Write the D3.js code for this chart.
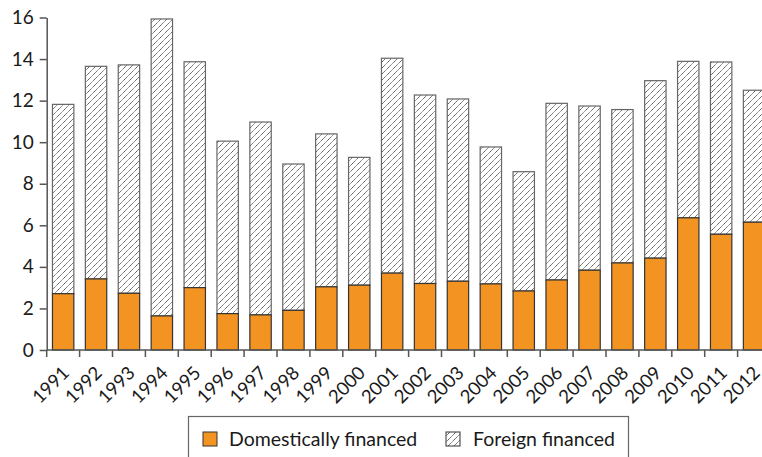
<!DOCTYPE html>
<html><head><meta charset="utf-8">
<script src="https://cdn.jsdelivr.net/npm/d3@7"></script>
<style>body{margin:0;background:#fff}svg{display:block}text{font-family:Lato,"Open Sans",sans-serif;fill:#1a1a1a}</style>
</head><body><svg id="c" width="762" height="457"></svg>
<script>
const years = ["1991","1992","1993","1994","1995","1996","1997","1998","1999","2000","2001","2002","2003","2004","2005","2006","2007","2008","2009","2010","2011","2012"];
const domestic = [2.71,3.42,2.73,1.64,3.0,1.75,1.69,1.91,3.04,3.12,3.7,3.2,3.31,3.18,2.84,3.37,3.84,4.19,4.42,6.36,5.57,6.15];
const foreign = [9.11,10.23,10.99,14.29,10.87,8.30,9.28,7.04,7.36,6.15,10.34,9.07,8.77,6.59,5.74,8.50,7.90,7.38,8.54,7.53,8.29,6.35];
const yTicks = [0,2,4,6,8,10,12,14,16];
const seriesNames = ["Domestically financed","Foreign financed"];

const svg = d3.select("#c");
const x0 = 46.7, step = 32.9;
const x = d3.scaleBand().domain(years).range([x0, x0 + step*years.length]).paddingInner(0.35).paddingOuter(0.175);
const y = d3.scaleLinear().domain([0,16]).range([350,17.5]);

const defs = svg.append("defs");
const pat = defs.append("pattern").attr("id","hatch").attr("patternUnits","userSpaceOnUse").attr("width",6).attr("height",6);
pat.append("rect").attr("width",6).attr("height",6).attr("fill","#fff");
pat.append("path").attr("d","M-1,7 L7,-1 M-4,4 L4,-4 M2,10 L10,2").attr("stroke","#2a2a2a").attr("stroke-width",0.9).attr("stroke-dasharray","1.2,0.6");

const data = years.map((yr,i)=>({year:yr, d:domestic[i], f:foreign[i]}));

svg.append("g").selectAll("rect").data(data).join("rect")
  .attr("x", d=>x(d.year)).attr("width", x.bandwidth())
  .attr("y", d=>y(d.d+d.f)).attr("height", d=>y(d.d)-y(d.d+d.f))
  .attr("fill","url(#hatch)").attr("stroke","#666").attr("stroke-width",1.2);
svg.append("g").selectAll("rect").data(data).join("rect")
  .attr("x", d=>x(d.year)).attr("width", x.bandwidth())
  .attr("y", d=>y(d.d)).attr("height", d=>y(0)-y(d.d))
  .attr("fill","#F39422").attr("stroke","#333").attr("stroke-width",1.2);

const ya = svg.append("g").attr("transform",`translate(${x0},0)`)
  .call(d3.axisLeft(y).tickValues(yTicks).tickSize(7).tickPadding(6).tickSizeOuter(0));
ya.select(".domain").attr("stroke","#555").attr("stroke-width",1.5);
ya.selectAll(".tick line").attr("stroke","#555").attr("stroke-width",1.5);
ya.selectAll("text").attr("font-size",19).attr("font-family","Lato,sans-serif").attr("fill","#1a1a1a");

svg.append("line").attr("x1",x0).attr("x2",770).attr("y1",y(0)).attr("y2",y(0)).attr("stroke","#555").attr("stroke-width",1.5);
const bounds = years.map(yr=>x(yr) - (x.step()-x.bandwidth())/2);
svg.append("g").selectAll("line").data(bounds).join("line")
  .attr("x1",d=>d).attr("x2",d=>d).attr("y1",y(0)).attr("y2",y(0)+7).attr("stroke","#555").attr("stroke-width",1.5);
svg.append("g").selectAll("text").data(years).join("text")
  .attr("transform", d=>`translate(${x(d)+x.bandwidth()/2-2},${y(0)+15}) rotate(-45)`)
  .attr("text-anchor","end").attr("dy","0.7em").attr("font-size",18.5).text(d=>d);

const lg = svg.append("g");
lg.append("rect").attr("x",188.5).attr("y",416.5).attr("width",440).attr("height",60).attr("fill","none").attr("stroke","#666").attr("stroke-width",1.2);
lg.append("rect").attr("x",203).attr("y",432).attr("width",14).attr("height",14).attr("fill","#F39422").attr("stroke","#333").attr("stroke-width",1);
lg.append("text").attr("x",229).attr("y",445.5).attr("font-size",19.5).text(seriesNames[0]);
lg.append("rect").attr("x",446).attr("y",432).attr("width",14).attr("height",14).attr("fill","url(#hatch)").attr("stroke","#333").attr("stroke-width",1);
lg.append("text").attr("x",473).attr("y",445.5).attr("font-size",19.5).text(seriesNames[1]);
</script></body></html>
